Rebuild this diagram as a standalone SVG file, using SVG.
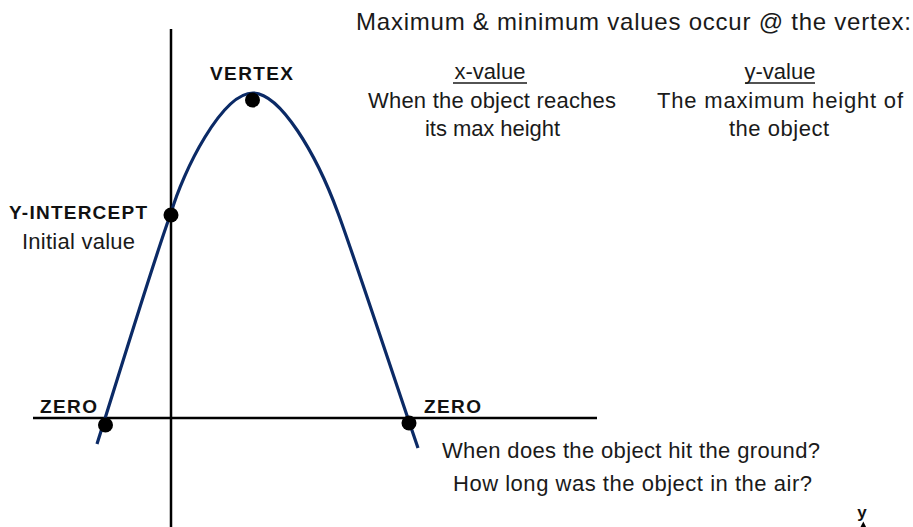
<svg xmlns="http://www.w3.org/2000/svg" width="913" height="527" viewBox="0 0 913 527">
  <style>
    .axis { stroke: #000; stroke-width: 2.5; fill: none; }
    .curve { stroke: #0b2a66; stroke-width: 3.2; fill: none; stroke-linecap: butt; }
    .dot { fill: #000; }
    .body { font-family: "Liberation Sans", "Open Sans", sans-serif; font-size: 22px; fill: #1a1a1a; }
    .title { font-size: 24px; }
    .lbl { font-family: "Liberation Sans", "DejaVu Sans", sans-serif; font-size: 19px; font-weight: bold; fill: #111; }
    .ul { stroke: #1a1a1a; stroke-width: 1.4; }
  </style>
  <defs>
    <clipPath id="clipBottom">
      <rect x="0" y="0" width="913" height="496"/>
    </clipPath>
  </defs>

  <g id="axes">
    <line class="axis" x1="171" y1="29" x2="171" y2="527"/>
    <line class="axis" x1="33" y1="418" x2="597" y2="418"/>
  </g>

  <g id="connectors">
    <path class="curve" d="M97,444 C116,384 156,253 171,213 C183,171 222,93 253,93 C280,93 316,153 338,213 C353,253 398,390 418,448"/>
  </g>

  <g id="title">
    <text class="body title" x="356" y="30" textLength="555">Maximum &amp; minimum values occur @ the vertex:</text>
  </g>

  <g id="xvalue">
    <text class="body" x="490" y="79" text-anchor="middle">x-value</text>
    <line class="ul" x1="453" y1="83" x2="527" y2="83"/>
    <text class="body" x="368" y="108" textLength="248">When the object reaches</text>
    <text class="body" x="425" y="136" textLength="135">its max height</text>
  </g>

  <g id="yvalue">
    <text class="body" x="780" y="79" text-anchor="middle">y-value</text>
    <line class="ul" x1="745" y1="83" x2="815" y2="83"/>
    <text class="body" x="657" y="108" textLength="246">The maximum height of</text>
    <text class="body" x="729" y="136" textLength="100">the object</text>
  </g>

  <g id="vertex">
    <text class="lbl" x="210" y="80" textLength="83">VERTEX</text>
    <circle class="dot" cx="252.5" cy="100" r="7.5"/>
  </g>

  <g id="yintercept">
    <text class="lbl" x="9" y="219" textLength="138">Y-INTERCEPT</text>
    <text class="body" x="22" y="249" textLength="113">Initial value</text>
    <circle class="dot" cx="171" cy="215" r="7.5"/>
  </g>

  <g id="zero-left">
    <text class="lbl" x="40" y="413" textLength="57">ZERO</text>
    <circle class="dot" cx="105.5" cy="425" r="7.5"/>
  </g>

  <g id="zero-right">
    <text class="lbl" x="424" y="413" textLength="57">ZERO</text>
    <circle class="dot" cx="409" cy="423" r="7.5"/>
  </g>

  <g id="questions">
    <text class="body" x="442" y="458" textLength="378">When does the object hit the ground?</text>
    <text class="body" x="453" y="491" textLength="359" clip-path="url(#clipBottom)">How long was the object in the air?</text>
  </g>

  <g id="y-axis-mini">
    <text x="862" y="518" text-anchor="middle" style="font-family:'Liberation Sans',sans-serif;font-size:17px;font-weight:bold;fill:#111">y</text>
    <path d="M863.3,521.5 L859,530 L867.6,530 Z" fill="#000"/>
  </g>
</svg>
